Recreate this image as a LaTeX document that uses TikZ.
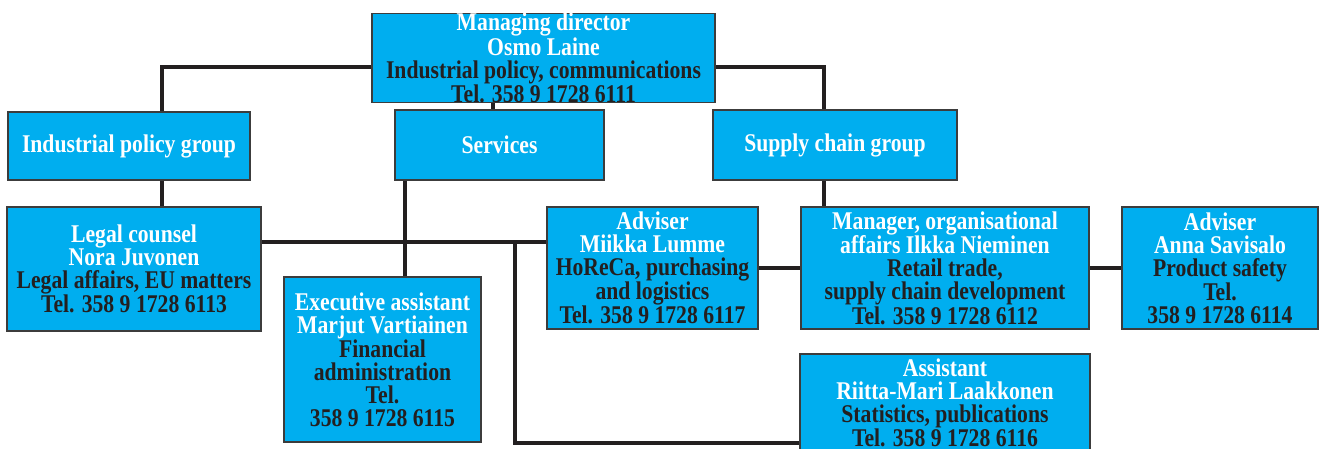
\documentclass[tikz,border=0pt]{standalone}
\usepackage{fontspec}
\setmainfont{Liberation Serif}[FakeStretch=0.85]
\usetikzlibrary{backgrounds}
\definecolor{boxfill}{RGB}{0,174,239}
\definecolor{ink}{RGB}{35,31,32}
\definecolor{edge}{RGB}{60,60,60}
\newcommand\wtxt[1]{\textcolor{white}{#1}}
\begin{document}
\begin{tikzpicture}[x=1pt,y=-1pt,
  orgbox/.style={draw=edge, line width=1.3pt, fill=boxfill, text=ink, inner sep=0pt, align=center,
    font=\fontsize{25.5}{23}\selectfont\bfseries},
  link/.style={draw=ink, line width=4pt}]
\useasboundingbox (0,0) rectangle (1322,448);
\clip (0,0) rectangle (1322,448);
\node[orgbox, minimum width=343pt, minimum height=88pt] (md) at (543.5,58)
  {\wtxt{Managing director}\\\wtxt{Osmo Laine}\\Industrial policy, communications\\Tel. 358 9 1728 6111};
\node[orgbox, minimum width=242pt, minimum height=68pt] (ipg) at (129,146) {\wtxt{Industrial policy group}};
\node[orgbox, minimum width=209pt, minimum height=70pt] (svc) at (499.5,145) {\wtxt{Services}};
\node[orgbox, minimum width=244pt, minimum height=70pt] (scg) at (835,145) {\wtxt{Supply chain group}};
\node[orgbox, minimum width=254pt, minimum height=124pt] (legal) at (134,269)
  {\wtxt{Legal counsel}\\\wtxt{Nora Juvonen}\\Legal affairs, EU matters\\Tel. 358 9 1728 6113};
\node[orgbox, minimum width=197pt, minimum height=165pt] (exec) at (382.5,359.5)
  {\wtxt{Executive assistant}\\\wtxt{Marjut Vartiainen}\\Financial\\administration\\Tel.\\358 9 1728 6115};
\node[orgbox, minimum width=211pt, minimum height=122pt] (miikka) at (652.5,268)
  {\wtxt{Adviser}\\\wtxt{Miikka Lumme}\\HoReCa, purchasing\\and logistics\\Tel. 358 9 1728 6117};
\node[orgbox, minimum width=288pt, minimum height=122pt] (mgr) at (945,268)
  {\wtxt{Manager, organisational}\\\wtxt{affairs Ilkka Nieminen}\\Retail trade,\\supply chain development\\Tel. 358 9 1728 6112};
\node[orgbox, minimum width=196pt, minimum height=122pt] (anna) at (1220,268)
  {\wtxt{Adviser}\\\wtxt{Anna Savisalo}\\Product safety\\Tel.\\358 9 1728 6114};
\node[orgbox, minimum width=290pt, minimum height=98pt] (riitta) at (945,403)
  {\wtxt{Assistant}\\\wtxt{Riitta-Mari Laakkonen}\\Statistics, publications\\Tel. 358 9 1728 6116};
\coordinate (jl) at (162,67);
\coordinate (jr) at (824,67);
\coordinate (js) at (493,0);
\coordinate (jh) at (0,242);
\coordinate (je) at (405,0);
\coordinate (jv) at (515,242);
\coordinate (jb) at (515,443);
\begin{scope}[on background layer]
\draw[link] (md.west |- jl) -- (jl) -- (jl |- ipg.north);
\draw[link] (md.east |- jr) -- (jr) -- (jr |- scg.north);
\draw[link] (js |- md.south) -- (js |- svc.north);
\draw[link] (jl |- ipg.south) -- (jl |- legal.north);
\draw[link] (legal.east |- jh) -- (miikka.west |- jh);
\draw[link] (je |- svc.south) -- (je |- exec.north);
\draw[link] (jv) -- (jb) -- (jb -| riitta.west);
\draw[link] (miikka.east) -- (mgr.west);
\draw[link] (jr |- scg.south) -- (jr |- mgr.north);
\draw[link] (mgr.east) -- (anna.west);
\end{scope}
\end{tikzpicture}
\end{document}
